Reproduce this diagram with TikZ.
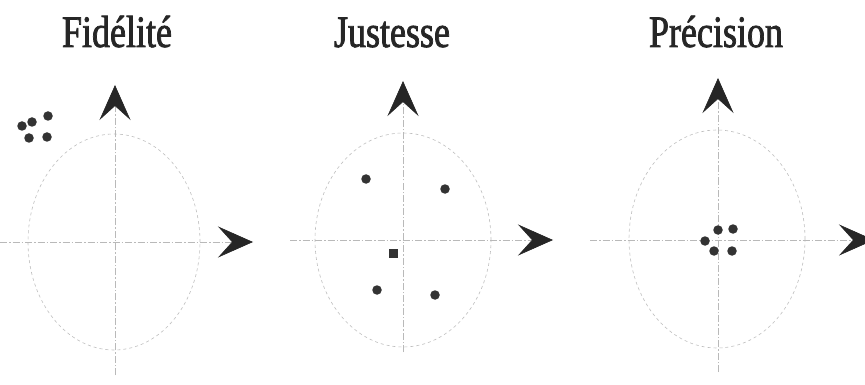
\documentclass[tikz,border=0pt]{standalone}
\usepackage{fontspec}
\setmainfont{Liberation Serif}
\newfontfamily\titlefont[FakeStretch=0.8,FakeBold=1.6]{Liberation Serif}
\usepackage{tikz}
\usetikzlibrary{arrows.meta}

\begin{document}
\begin{tikzpicture}[
    x=1pt, y=-1pt,
    title/.style={anchor=base, inner sep=0pt, text=black!85, font=\titlefont\fontsize{45}{45}\selectfont},
    axis/.style={draw=gray!55, line width=0.6pt,
                 dash pattern=on 7pt off 2pt on 1.5pt off 2pt,
                 -{Stealth[length=35pt, width=31pt, inset=14pt, color=black!85]}},
    ring/.style={draw=gray!50, line width=0.6pt, dash pattern=on 3pt off 3pt},
    dot/.style={circle, fill=black!80, inner sep=0pt, minimum size=9.5pt},
    sqdot/.style={rectangle, fill=black!80, inner sep=0pt, minimum size=9pt},
]
\clip (0,0) rectangle (865,385);
\fill[white] (0,0) rectangle (865,385);

% Fidelite
\node[title] (tfid) at (117,47) {Fidélité};
\coordinate (fb) at (115,375);
\coordinate (ft) at (115,85);
\coordinate (fl) at (0,242);
\coordinate (fr) at (253,242);
\draw[ring] (114,242) ellipse [x radius=86pt, y radius=108pt];
\draw[axis] (fb) -- (ft);
\draw[axis] (fl) -- (fr);
\node[dot] (f1) at (22,126) {};
\node[dot] (f2) at (32,122) {};
\node[dot] (f3) at (48,116) {};
\node[dot] (f4) at (29,138) {};
\node[dot] (f5) at (47,137) {};

% Justesse
\node[title] (tjus) at (392,47) {Justesse};
\coordinate (jb) at (403,352);
\coordinate (jt) at (403,81);
\coordinate (jl) at (290,240);
\coordinate (jr) at (553,240);
\draw[ring] (403,240) ellipse [x radius=88pt, y radius=107pt];
\draw[axis] (jb) -- (jt);
\draw[axis] (jl) -- (jr);
\node[dot] (j1) at (366,179) {};
\node[dot] (j2) at (445,189) {};
\node[sqdot] (j3) at (393,253) {};
\node[dot] (j4) at (377,290) {};
\node[dot] (j5) at (435,295) {};

% Precision
\node[title] (tpre) at (716,47) {Précision};
\coordinate (pb) at (718,372);
\coordinate (pt) at (718,78);
\coordinate (pl) at (590,240);
\coordinate (pr) at (874,240);
\draw[ring] (717,239) ellipse [x radius=88pt, y radius=109pt];
\draw[axis] (pb) -- (pt);
\draw[axis] (pl) -- (pr);
\node[dot] (p1) at (705,241) {};
\node[dot] (p2) at (718,230) {};
\node[dot] (p3) at (733,229) {};
\node[dot] (p4) at (714,251) {};
\node[dot] (p5) at (732,251) {};
\end{tikzpicture}
\end{document}
